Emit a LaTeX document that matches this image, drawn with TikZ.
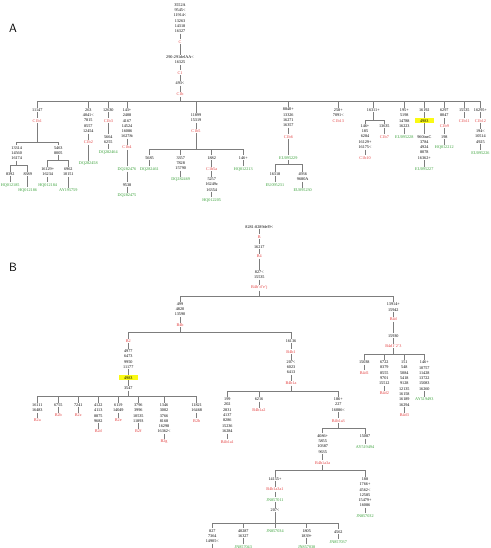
\documentclass[tikz,border=0pt]{standalone}
\usepackage{tikz}
\usepackage{fontspec}
\setmainfont{Liberation Serif}
\definecolor{hapred}{RGB}{226,62,62}
\definecolor{accgreen}{RGB}{52,158,52}
\definecolor{treegray}{RGB}{125,125,125}
\definecolor{hlyellow}{RGB}{250,250,20}

\begin{document}
\begin{tikzpicture}[x=1pt, y=-1pt, font=\fontsize{4.2}{5.3}\selectfont,
  mut/.style={inner sep=0.8pt, align=center},
  hap/.style={mut, text=hapred},
  acc/.style={mut, text=accgreen},
  hl/.style={mut, fill=hlyellow, inner xsep=5.5pt, inner ysep=1.1pt},
  tree/.style={draw=treegray, line width=0.55pt},
  panel/.style={font=\sffamily\fontsize{12}{12}\selectfont}]
  \useasboundingbox (0,0) rectangle (490,548);

  % panel A
  \node[panel] (labelA) at (13,28) {A};
  \node[mut] (cRoot) at (180,18) {3552A\\9545<\\11914<\\13263\\14318\\16327};
  \node[hap] (c) at (180,41.7) {C};
  \node[mut] (c1m) at (180,59.9) {290-291delAA<\\16325};
  \node[hap] (c1) at (180,72.7) {C1};
  \node[mut] (c1bm) at (180,83.3) {493<};
  \node[hap] (c1b) at (180,94.3) {C1b};
  \coordinate (c1bBar) at (180,101.7);

  \node[mut] (a1) at (37.3,110) {11147};
  \node[hap] (c1b1) at (37.3,120.7) {C1b1};
  \coordinate (a1Bar) at (37.3,142.7);
  \node[mut] (a11) at (16.7,153) {13314\\14560\\16174};
  \coordinate (a11Bar) at (16.7,165.3);
  \node[mut] (a111) at (10.2,174) {8392};
  \node[acc] (a111g) at (10.2,185) {HQ012185};
  \node[mut] (a112) at (27.7,174) {8389};
  \node[acc] (a112g) at (27.7,190) {HQ012186};
  \node[mut] (a12) at (58.3,150.4) {5463\\8005};
  \coordinate (a12Bar) at (58.3,160);
  \node[mut] (a121) at (47.7,171.7) {16129+\\16234};
  \node[acc] (a121g) at (47.7,185) {HQ012184};
  \node[mut] (a122) at (68.3,171.7) {6962\\10151};
  \node[acc] (a122g) at (68.3,190) {AY195759};

  \node[mut] (a2) at (88.3,120.6) {263\\4041<\\7815\\8557\\12454};
  \node[hap] (c1b2) at (88.3,142.3) {C1b2};
  \node[acc] (a2g) at (88.3,163.3) {DQ282458};

  \node[mut] (a3) at (108.3,110) {12630};
  \node[hap] (c1b3) at (108.3,120.7) {C1b3};
  \node[mut] (a3m) at (108.3,139.4) {5664\\6255};
  \node[acc] (a3g) at (108.3,152) {DQ282464};

  \node[mut] (a4) at (127,123.3) {143+\\2408\\4167\\14524\\16086\\16278t};
  \node[hap] (c1b4) at (127,147.3) {C1b4};
  \node[acc] (a4g) at (127,169) {DQ282476};
  \node[mut] (a4m) at (127,184.7) {9538};
  \node[acc] (a4g2) at (127,195.7) {DQ282475};

  \node[mut] (a5) at (196,117.7) {11899\\15319};
  \node[hap] (c1b5) at (196,131) {C1b5};
  \coordinate (a5Bar) at (196,149.3);
  \node[mut] (a51) at (149.5,157.7) {5685};
  \node[acc] (a51g) at (149.5,169) {DQ282461};
  \node[mut] (a52) at (180.7,163) {3357\\7828\\15790};
  \node[acc] (a52g) at (180.7,179.3) {DQ282469};
  \node[mut] (a53) at (211.7,157.7) {1882};
  \node[hap] (c1b5a) at (211.7,169) {C1b5a};
  \node[mut] (a53m) at (211.7,184.6) {5257\\16249c\\16354};
  \node[acc] (a53g) at (211.7,200) {HQ012205};
  \node[mut] (a54) at (243.3,157.7) {146+};
  \node[acc] (a54g) at (243.3,169) {HQ012213};

  \node[mut] (a6) at (288.3,117.3) {8840+\\13326\\16271\\16357};
  \node[hap] (c1b6) at (288.3,136.7) {C1b6};
  \node[acc] (a6g) at (288.3,157.7) {EU095229};
  \coordinate (a6Bar) at (288.3,164.3);
  \node[mut] (a61) at (275,174) {16318};
  \node[acc] (a61g) at (275,184.7) {EU095231};
  \node[mut] (a62) at (302.7,176.7) {4936\\9680A};
  \node[acc] (a62g) at (302.7,190) {EU095230};

  \node[mut] (a7) at (338.3,112.7) {258+\\7091<};
  \node[hap] (c1b13) at (338.3,120.7) {C1b13};

  \node[mut] (a8) at (373.3,110) {16311+};
  \coordinate (a8Bar) at (373.3,120);
  \node[mut] (a81) at (365,136.6) {146+\\185\\6284\\16129+\\16175<};
  \node[hap] (c1b10) at (365,157.7) {C1b10};
  \node[mut] (a82) at (384.3,126) {13635};
  \node[hap] (c1b7) at (384.3,136.7) {C1b7};

  \node[mut] (a9) at (404.3,118) {195+\\5198\\14788\\16223};
  \node[acc] (a9g) at (404.3,136.7) {EU095228};

  \node[mut] (a10) at (424.3,110) {16192};
  \node[hl] (a10y) at (424.3,120.7) {4983};
  \node[mut] (a10m) at (424.3,147.3) {960insC\\3784\\4924\\8078\\16362+};
  \node[acc] (a10g) at (424.3,169) {EU095227};

  \node[mut] (a11b) at (444.3,112.7) {6297\\8047};
  \node[hap] (c1b9) at (444.3,126) {C1b9};
  \node[mut] (a11m) at (444.3,136.7) {198};
  \node[acc] (a11g) at (444.3,147.3) {HQ012212};

  \node[mut] (a12b) at (464.3,110) {15535};
  \node[hap] (c1b11) at (464.3,120.7) {C1b11};

  \node[mut] (a13) at (480.4,110) {16295+};
  \node[hap] (c1b12) at (480.4,120.7) {C1b12};
  \node[mut] (a13m) at (480.4,136.6) {194<\\10514\\4925};
  \node[acc] (a13g) at (480.4,152.7) {EU095226};

  \draw[tree] (cRoot) -- (c) -- (c1m) -- (c1) -- (c1bm) -- (c1b) -- (c1bBar);
  \draw[tree] (c1bBar) -| (a1) (c1bBar) -| (a2) (c1bBar) -| (a3) (c1bBar) -| (a4)
    (c1bBar) -| (a5) (c1bBar) -| (a6) (c1bBar) -| (a7) (c1bBar) -| (a8)
    (c1bBar) -| (a9) (c1bBar) -| (a10) (c1bBar) -| (a11b) (c1bBar) -| (a12b)
    (c1bBar) -| (a13);
  \draw[tree] (a1) -- (c1b1) -- (a1Bar) -| (a11) (a1Bar) -| (a12);
  \draw[tree] (a11) -- (a11Bar) -| (a111) (a11Bar) -| (a112);
  \draw[tree] (a111) -- (a111g) (a112) -- (a112g);
  \draw[tree] (a12) -- (a12Bar) -| (a121) (a12Bar) -| (a122);
  \draw[tree] (a121) -- (a121g) (a122) -- (a122g);
  \draw[tree] (a2) -- (c1b2) -- (a2g);
  \draw[tree] (a3) -- (c1b3) -- (a3m) -- (a3g);
  \draw[tree] (a4) -- (c1b4) -- (a4g) -- (a4m) -- (a4g2);
  \draw[tree] (a5) -- (c1b5) -- (a5Bar) -| (a51) (a5Bar) -| (a52) (a5Bar) -| (a53)
    (a5Bar) -| (a54);
  \draw[tree] (a51) -- (a51g) (a52) -- (a52g) (a54) -- (a54g);
  \draw[tree] (a53) -- (c1b5a) -- (a53m) -- (a53g);
  \draw[tree] (a6) -- (c1b6) -- (a6g) -- (a6Bar) -| (a61) (a6Bar) -| (a62);
  \draw[tree] (a61) -- (a61g) (a62) -- (a62g);
  \draw[tree] (a8) -- (a8Bar) -| (a81) (a8Bar) -| (a82);
  \draw[tree] (a81) -- (c1b10) (a82) -- (c1b7);
  \draw[tree] (a9) -- (a9g);
  \draw[tree] (a10) -- (a10y) -- (a10m) -- (a10g);
  \draw[tree] (a11b) -- (c1b9) -- (a11m) -- (a11g);
  \draw[tree] (a12b) -- (c1b11);
  \draw[tree] (a13) -- (c1b12) -- (a13m) -- (a13g);

  % panel B
  \node[panel] (labelB) at (13,267) {B};
  \node[mut] (bRoot) at (259.3,226.7) {8281-8289del9<};
  \node[hap] (bB) at (259.3,236.7) {B};
  \node[mut] (bB4m) at (259.3,246.7) {16217};
  \node[hap] (bB4) at (259.3,256.3) {B4};
  \node[mut] (bm) at (259.3,274.6) {827<\\15535};
  \node[hap] (b4bdej) at (259.3,287.7) {B4b'd'e'j};
  \coordinate (bBar) at (259.3,296);

  \node[mut] (b1) at (180,309.3) {499\\4820\\13590};
  \node[hap] (b4b) at (180,325) {B4b};
  \coordinate (b4bBar) at (180,332.7);

  \node[hap] (b2) at (128.3,341) {B2};
  \node[mut] (b2m) at (128.3,359) {4977\\6473\\9950\\11177};
  \node[hl] (b2y) at (128.3,377.7) {4983};
  \node[mut] (b2m2) at (128.3,388.3) {3547};
  \coordinate (b2Bar) at (128.3,396);
  \node[mut] (b2am) at (37.3,407.7) {16111\\16483};
  \node[hap] (b2a) at (37.3,420) {B2a};
  \node[mut] (b2bm) at (58.3,405) {6755};
  \node[hap] (b2b) at (58.3,415) {B2b};
  \node[mut] (b2cm) at (78.3,405) {7241};
  \node[hap] (b2c) at (78.3,415) {B2c};
  \node[mut] (b2dm) at (98.3,413) {4122\\4113\\8875\\9682};
  \node[hap] (b2d) at (98.3,431) {B2d};
  \node[mut] (b2em) at (118.3,407.7) {6119\\14049};
  \node[hap] (b2e) at (118.3,420) {B2e};
  \node[mut] (b2fm) at (138.3,413) {3796\\3996\\10535\\11893};
  \node[hap] (b2f) at (138.3,431) {B2f};
  \node[mut] (b2gm) at (164,418.3) {1346\\3002\\3766\\8168\\16298\\16362<};
  \node[hap] (b2g) at (164,441.7) {B2g};
  \node[mut] (b2hm) at (196.7,407.7) {11821\\16468};
  \node[hap] (b2h) at (196.7,420.7) {B2h};

  \node[mut] (b4b1m) at (291,341) {16136};
  \node[hap] (b4b1) at (291,351.7) {B4b1};
  \node[mut] (b4b1am) at (291,367.3) {207<\\6023\\6413};
  \node[hap] (b4b1a) at (291,383.2) {B4b1a};
  \coordinate (b4b1aBar) at (291,391);
  \node[mut] (b4b1a1m) at (227.3,415.2) {199\\202\\2831\\4137\\8286\\15236\\16284};
  \node[hap] (b4b1a1) at (227.3,441.7) {B4b1a1};
  \node[mut] (b4b1a2m) at (259,399.3) {6216};
  \node[hap] (b4b1a2) at (259,410) {B4b1a2};
  \node[mut] (b4b1a3m) at (338.3,404.6) {186+\\227\\16086<};
  \node[hap] (b4b1a3) at (338.3,420.7) {B4b1a3};
  \coordinate (b4b1a3Bar) at (338.3,428.3);
  \node[mut] (b4b1a3am) at (322.7,443.7) {4086+\\5855\\10387\\9635};
  \node[hap] (b4b1a3a) at (322.7,462.7) {B4b1a3a};
  \coordinate (b4b1a3aBar) at (322.7,470);
  \node[mut] (b3x) at (365,436.5) {15087};
  \node[acc] (b3xg) at (365,446.7) {AY519494};
  \node[mut] (bR) at (365,492.3) {188\\1766+\\4562<\\12585\\15479+\\16086};
  \node[acc] (bRg) at (365,515.7) {JN857032};
  \node[mut] (b4b1a3a1m) at (275,479) {14155+};
  \node[hap] (b4b1a3a1) at (275,489.3) {B4b1a3a1};
  \node[acc] (bJ11) at (275,499.8) {JN857011};
  \node[mut] (bM207) at (275,510) {207<};
  \coordinate (bBotBar) at (275,523.3);
  \node[mut] (bL1) at (212.3,536) {827\\7364\\14905<};
  \coordinate (bL1end) at (212.3,549);
  \node[mut] (bL2) at (243.3,533.4) {40287\\16327};
  \node[acc] (bL2g) at (243.3,546.7) {JN857043};
  \node[acc] (bL3g) at (275,530.7) {JN857034};
  \node[mut] (bL4) at (306.7,533.4) {1805\\1839+};
  \node[acc] (bL4g) at (306.7,546.7) {JN857038};
  \node[mut] (bL5) at (338.3,531.7) {4562};
  \node[acc] (bL5g) at (338.3,541.7) {JN857037};

  \node[mut] (b4dm) at (393.3,307) {13914+\\15942};
  \node[hap] (b4d) at (393.3,319.3) {B4d};
  \node[mut] (b4d123m) at (393.3,335.7) {15930};
  \node[hap] (b4d123) at (393.3,346) {B4d1'2'3};
  \coordinate (b4d123Bar) at (393.3,354);
  \node[mut] (b4d1m) at (364.3,362.3) {15038};
  \node[hap] (b4d1) at (364.3,372.7) {B4d1};
  \node[mut] (b4d2m) at (384.3,372.9) {6722\\8379\\8555\\9701\\15512};
  \node[hap] (b4d2) at (384.3,393.3) {B4d2};
  \node[mut] (b4d3m) at (404.3,383.5) {151\\548\\5084\\5418\\9128\\12135\\16158\\16189\\16294};
  \node[hap] (b4d3) at (404.3,415) {B4d3};
  \node[mut] (b4d4m) at (424.3,375.6) {146+\\10757\\11428\\13722\\15083\\16260};
  \node[acc] (b4d4g) at (424.3,399.3) {AY519493};

  \draw[tree] (bRoot) -- (bB) -- (bB4m) -- (bB4) -- (bm) -- (b4bdej) -- (bBar);
  \draw[tree] (bBar) -| (b1) (bBar) -| (b4dm);
  \draw[tree] (b1) -- (b4b) -- (b4bBar) -| (b2) (b4bBar) -| (b4b1m);
  \draw[tree] (b2) -- (b2m) -- (b2y) -- (b2m2) -- (b2Bar);
  \draw[tree] (b2Bar) -| (b2am) (b2Bar) -| (b2bm) (b2Bar) -| (b2cm) (b2Bar) -| (b2dm)
    (b2Bar) -| (b2em) (b2Bar) -| (b2fm) (b2Bar) -| (b2gm) (b2Bar) -| (b2hm);
  \draw[tree] (b2am) -- (b2a) (b2bm) -- (b2b) (b2cm) -- (b2c) (b2dm) -- (b2d)
    (b2em) -- (b2e) (b2fm) -- (b2f) (b2gm) -- (b2g) (b2hm) -- (b2h);
  \draw[tree] (b4b1m) -- (b4b1) -- (b4b1am) -- (b4b1a) -- (b4b1aBar);
  \draw[tree] (b4b1aBar) -| (b4b1a1m) (b4b1aBar) -| (b4b1a2m) (b4b1aBar) -| (b4b1a3m);
  \draw[tree] (b4b1a1m) -- (b4b1a1) (b4b1a2m) -- (b4b1a2);
  \draw[tree] (b4b1a3m) -- (b4b1a3) -- (b4b1a3Bar) -| (b4b1a3am) (b4b1a3Bar) -| (b3x);
  \draw[tree] (b3x) -- (b3xg);
  \draw[tree] (b4b1a3am) -- (b4b1a3a) -- (b4b1a3aBar) -| (b4b1a3a1m)
    (b4b1a3aBar) -| (bR);
  \draw[tree] (bR) -- (bRg);
  \draw[tree] (b4b1a3a1m) -- (b4b1a3a1) -- (bJ11) -- (bM207) -- (bBotBar);
  \draw[tree] (bBotBar) -| (bL1) (bBotBar) -| (bL2) (bBotBar) -| (bL3g)
    (bBotBar) -| (bL4) (bBotBar) -| (bL5);
  \draw[tree] (bL1) -- (bL1end) (bL2) -- (bL2g) (bL4) -- (bL4g) (bL5) -- (bL5g);
  \draw[tree] (b4dm) -- (b4d) -- (b4d123m) -- (b4d123) -- (b4d123Bar);
  \draw[tree] (b4d123Bar) -| (b4d1m) (b4d123Bar) -| (b4d2m) (b4d123Bar) -| (b4d3m)
    (b4d123Bar) -| (b4d4m);
  \draw[tree] (b4d1m) -- (b4d1) (b4d2m) -- (b4d2) (b4d3m) -- (b4d3) (b4d4m) -- (b4d4g);
\end{tikzpicture}
\end{document}
